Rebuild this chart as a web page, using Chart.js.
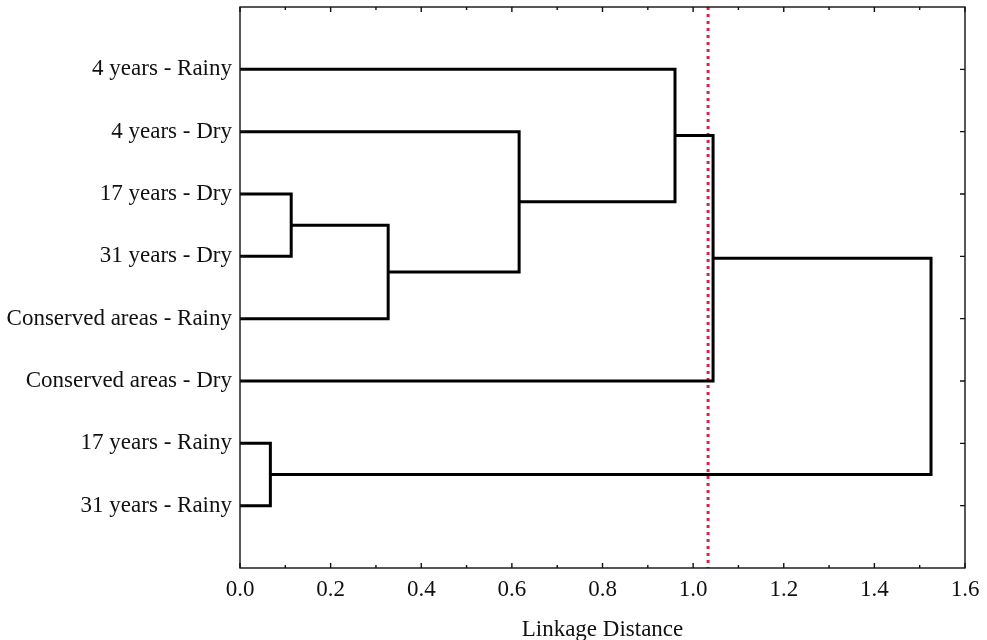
<!DOCTYPE html>
<html lang="en">
<head>
    <meta charset="UTF-8">
    <title>Dendrogram</title>
    <script src="https://cdn.jsdelivr.net/npm/chart.js"></script>
    <style>
        html, body { margin: 0; padding: 0; background: #fff; }
        #wrap { width: 987px; height: 640px; }
    </style>
</head>
<body>
    <div id="wrap"><canvas id="dendro"></canvas></div>

<script>
    // leaves, top to bottom
    const leafNames = [
        '4 years - Rainy',
        '4 years - Dry',
        '17 years - Dry',
        '31 years - Dry',
        'Conserved areas - Rainy',
        'Conserved areas - Dry',
        '17 years - Rainy',
        '31 years - Rainy'
    ];

    // linkage: node ids 0-7 are leaves, each merge creates node 8, 9, ...
    const mergeA = [6, 2, 9, 1, 0, 12, 13];
    const mergeB = [7, 3, 4, 10, 11, 5, 8];
    const mergeHeight = [0.067, 0.113, 0.327, 0.616, 0.960, 1.044, 1.525];

    const cutHeight = 1.033;
    const xTicks = [0, 0.2, 0.4, 0.6, 0.8, 1.0, 1.2, 1.4, 1.6];

    // position (y) and height (x) of every node
    let nodeY = leafNames.map((n, i) => i + 1);
    let nodeH = leafNames.map(() => 0);
    for (let i = 0; i < mergeA.length; i++) {
        nodeY.push((nodeY[mergeA[i]] + nodeY[mergeB[i]]) / 2);
        nodeH.push(mergeHeight[i]);
    }

    let datasets = [];
    for (let i = 0; i < mergeA.length; i++) {
        let a = mergeA[i], b = mergeB[i], h = mergeHeight[i];
        datasets.push({
            data: [
                { x: nodeH[a], y: nodeY[a] },
                { x: h, y: nodeY[a] },
                { x: h, y: nodeY[b] },
                { x: nodeH[b], y: nodeY[b] }
            ],
            showLine: true,
            borderColor: '#000',
            borderWidth: 3,
            borderJoinStyle: 'miter',
            pointRadius: 0,
            fill: false,
            tension: 0
        });
    }
    datasets.push({
        data: [{ x: cutHeight, y: 0 }, { x: cutHeight, y: 9 }],
        showLine: true,
        borderColor: '#e0204a',
        borderWidth: 3,
        borderDash: [3, 4],
        pointRadius: 0,
        fill: false
    });

    // frame with inward ticks on all sides
    const frameTicks = {
        id: 'frameTicks',
        afterDraw(chart) {
            const ctx = chart.ctx;
            const a = chart.chartArea;
            const xs = chart.scales.x, ys = chart.scales.y;
            ctx.save();
            ctx.strokeStyle = '#111';
            ctx.lineWidth = 1.4;
            ctx.strokeRect(a.left, a.top, a.right - a.left, a.bottom - a.top);
            ctx.beginPath();
            for (let v = 0; v <= 16; v++) {
                let px = xs.getPixelForValue(v / 10);
                let len = v % 2 === 0 ? 5 : 3;
                ctx.moveTo(px, a.bottom); ctx.lineTo(px, a.bottom - len);
                ctx.moveTo(px, a.top); ctx.lineTo(px, a.top + len);
            }
            for (let i = 1; i <= leafNames.length; i++) {
                let py = ys.getPixelForValue(i);
                ctx.moveTo(a.left, py); ctx.lineTo(a.left + 5, py);
                ctx.moveTo(a.right, py); ctx.lineTo(a.right - 5, py);
            }
            ctx.stroke();
            ctx.restore();
        }
    };

    const fontSerif = { family: '"Liberation Serif", "Times New Roman", serif', size: 23 };

    new Chart(document.getElementById('dendro'), {
        type: 'scatter',
        data: { datasets: datasets },
        options: {
            responsive: true,
            maintainAspectRatio: false,
            animation: false,
            layout: { padding: { top: 7, right: 22, left: 0, bottom: 0 } },
            plugins: {
                legend: { display: false },
                tooltip: { enabled: false }
            },
            scales: {
                x: {
                    type: 'linear',
                    min: 0,
                    max: 1.6,
                    afterBuildTicks: (s) => { s.ticks = xTicks.map(v => ({ value: v })); },
                    ticks: {
                        color: '#111',
                        font: fontSerif,
                        padding: 0,
                        maxRotation: 0,
                        callback: (v) => Number(v).toFixed(1)
                    },
                    grid: { display: false },
                    border: { display: false },
                    title: {
                        display: true,
                        text: 'Linkage Distance',
                        color: '#111',
                        font: fontSerif,
                        padding: { top: 8, bottom: -4 }
                    },
                    afterFit: (s) => { s.height = 72; s.paddingLeft = 0; s.paddingRight = 0; }
                },
                y: {
                    type: 'linear',
                    min: 0,
                    max: 9,
                    reverse: true,
                    afterBuildTicks: (s) => { s.ticks = leafNames.map((n, i) => ({ value: i + 1 })); },
                    ticks: {
                        color: '#111',
                        font: fontSerif,
                        padding: 0,
                        autoSkip: false,
                        callback: (v) => leafNames[v - 1] || ''
                    },
                    grid: { display: false },
                    border: { display: false },
                    afterFit: (s) => { s.width = 240; s.paddingTop = 0; s.paddingBottom = 0; }
                }
            }
        },
        plugins: [frameTicks]
    });
</script>
</body>
</html>
